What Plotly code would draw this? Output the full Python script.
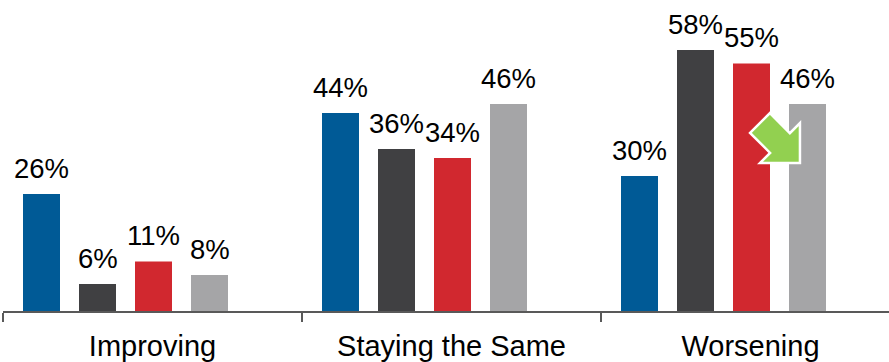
import plotly.graph_objects as go

categories = ["Improving", "Staying the Same", "Worsening"]
series_names = ["Series A", "Series B", "Series C", "Series D"]
series_a = [26, 44, 30]
series_b = [6, 36, 58]
series_c = [11, 34, 55]
series_d = [8, 46, 46]
series_values = [series_a, series_b, series_c, series_d]
colors = ["#005A96", "#404042", "#D1282F", "#A5A5A7"]

W, H = 889, 362
ML, MB = 3, 51
plot_w = W - ML
plot_h = H - MB
cat_px = 299.0
bar_w = 37 / cat_px
step = 56 / cat_px
first_off = -129.5 / cat_px
x_max = -0.5 + plot_w / cat_px
y_max = 69.1

FONT = "Arial, 'Liberation Sans', sans-serif"

fig = go.Figure()
annotations = []
for i, (name, vals, col) in enumerate(zip(series_names, series_values, colors)):
    off = first_off + i * step
    fig.add_trace(go.Bar(
        x=categories, y=vals, name=name,
        marker=dict(color=col, line=dict(width=0)),
        width=bar_w, offset=off, showlegend=False,
    ))
    for ci, v in enumerate(vals):
        annotations.append(dict(
            x=ci + off + bar_w / 2, y=v, xref="x", yref="y",
            text=f"{v}%", showarrow=False, yanchor="bottom", xanchor="center",
            yshift=8, font=dict(family=FONT, size=27.5, color="#000000"),
        ))


def px(xp, yp):
    return (xp - ML) / plot_w, (plot_h - yp) / plot_h


# green arrow (decoration)
T = (800.0, 163.0)
L = 40.0
M = (T[0] - L / 2, T[1] - L / 2)
h = 14.0 / 2 ** 0.5
S = 20.0
pts = [
    (M[0] - S - h, M[1] - S + h),
    (M[0] - S + h, M[1] - S - h),
    (M[0] + h, M[1] - h),
    (T[0], T[1] - L),
    T,
    (T[0] - L, T[1]),
    (M[0] - h, M[1] + h),
]
path = "M " + " L ".join("%.4f,%.4f" % px(*p) for p in pts) + " Z"

fig.update_layout(
    width=W, height=H,
    margin=dict(l=ML, r=0, t=0, b=MB),
    paper_bgcolor="white", plot_bgcolor="white",
    barmode="overlay",
    annotations=annotations,
    shapes=[dict(type="path", path=path, xref="paper", yref="paper",
                 fillcolor="#92D050", line=dict(color="white", width=2.5), layer="above")],
    xaxis=dict(
        range=[-0.5, x_max], showgrid=False, zeroline=False,
        showline=True, linecolor="#595959", linewidth=2,
        ticks="outside", ticklen=9, tickwidth=2, tickcolor="#595959",
        tickson="boundaries", ticklabelstandoff=8,
        tickfont=dict(family=FONT, size=29, color="#000000"),
    ),
    yaxis=dict(range=[0, y_max], visible=False, showgrid=False, zeroline=False),
)

fig.write_html("out.html")
